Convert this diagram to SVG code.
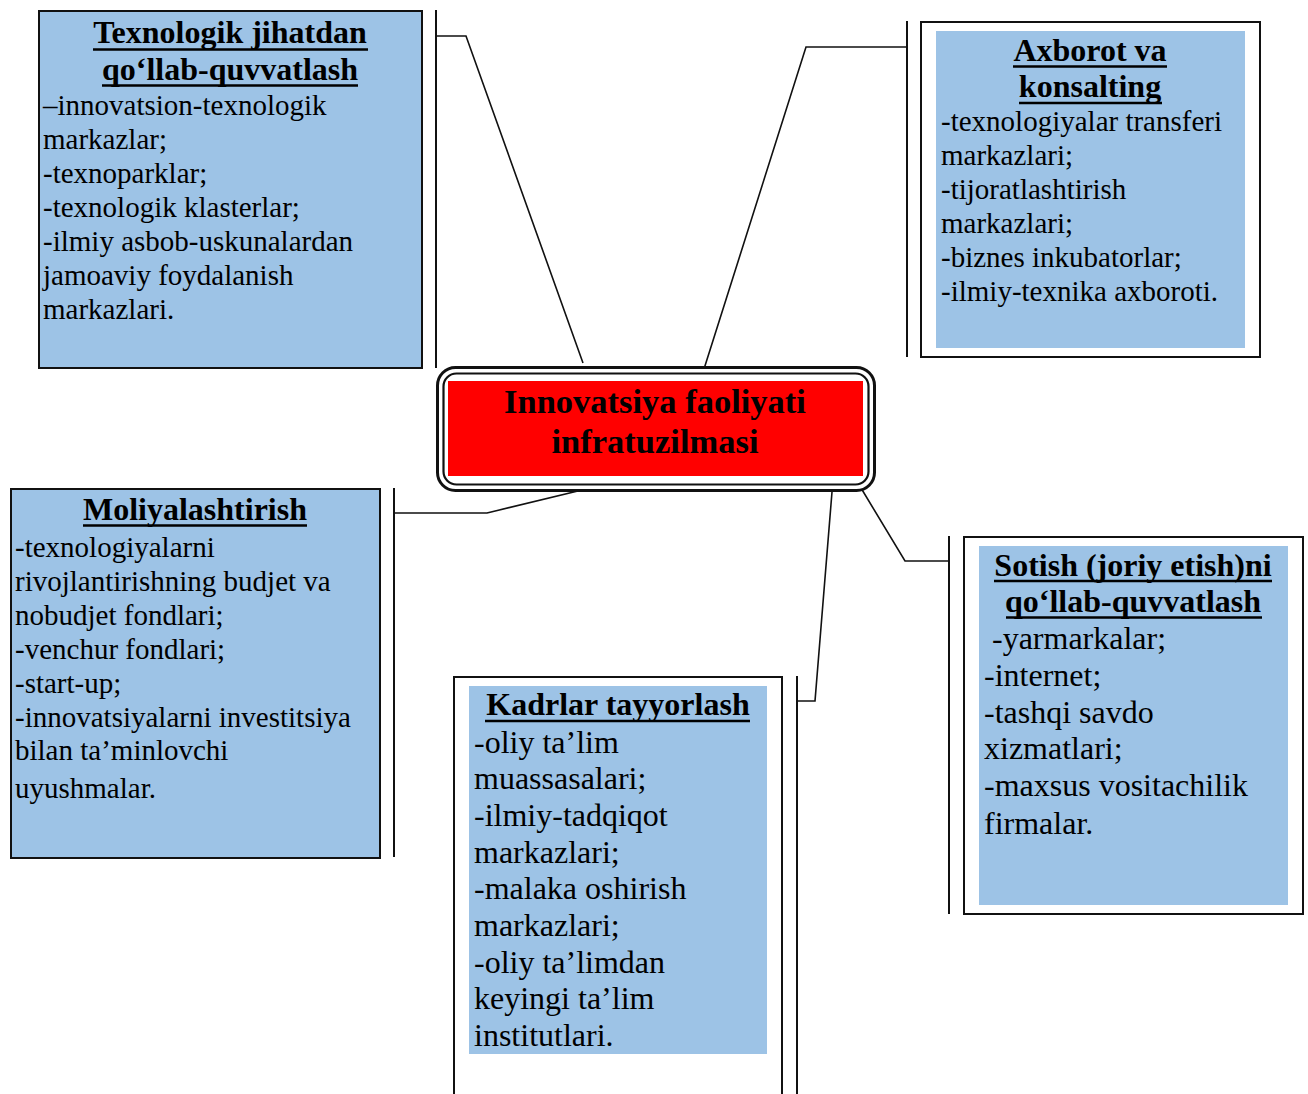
<svg xmlns="http://www.w3.org/2000/svg" width="1308" height="1094" viewBox="0 0 1308 1094">
<style>
  .frame{fill:#9dc3e6;stroke:#111;stroke-width:2}
  .outer{fill:#fff;stroke:#111;stroke-width:2}
  .blue{fill:#9dc3e6}
  .conn{fill:none;stroke:#111;stroke-width:1.6}
  .bar{stroke:#111;stroke-width:2}
  .ul{stroke:#000;stroke-width:2.6}
  text{font-family:"Liberation Serif","Times New Roman",serif;fill:#000}
  .t{font-size:32px;font-weight:bold;text-anchor:middle}
  .b{font-size:29px}
  .b2{font-size:32px}
  .c{font-size:34.5px;font-weight:bold;text-anchor:middle}
</style>
<rect width="1308" height="1094" fill="#fff"/>
<g id="connectors">
  <line class="bar" x1="436" y1="10" x2="436" y2="368"/>
  <polyline class="conn" points="436,36 466,36 583,363"/>
  <line class="bar" x1="907" y1="21" x2="907" y2="357"/>
  <polyline class="conn" points="907,47 806,47 704,369"/>
  <line class="bar" x1="394" y1="488" x2="394" y2="857"/>
  <polyline class="conn" points="394,513 487,513 582,490"/>
  <line class="bar" x1="797" y1="676" x2="797" y2="1094"/>
  <polyline class="conn" points="797,701 815,701 832,492"/>
  <line class="bar" x1="949" y1="536" x2="949" y2="914"/>
  <polyline class="conn" points="949,561 905,561 861,488"/>
</g>
<g id="center">
  <rect x="437.5" y="367.5" width="437" height="123" rx="18" fill="#fff" stroke="#111" stroke-width="3"/>
  <rect x="443.5" y="373.5" width="425" height="111" rx="13" fill="none" stroke="#111" stroke-width="2.2"/>
  <rect x="448" y="381" width="415" height="95" fill="#ff0000"/>
  <text class="c" x="655" y="413">Innovatsiya faoliyati</text>
  <text class="c" x="655" y="453">infratuzilmasi</text>
</g>
<g id="texnologik">
  <rect class="frame" x="39" y="11" width="383" height="357"/>
  <text class="t" x="230" y="43">Texnologik jihatdan</text>
  <line class="ul" x1="93" y1="49.5" x2="368" y2="49.5"/>
  <text class="t" x="230" y="80">qo‘llab-quvvatlash</text>
  <line class="ul" x1="102" y1="85.5" x2="358" y2="85.5"/>
  <text class="b" x="43" y="115">–innovatsion-texnologik</text>
  <text class="b" x="43" y="149">markazlar;</text>
  <text class="b" x="43" y="183">-texnoparklar;</text>
  <text class="b" x="43" y="217">-texnologik klasterlar;</text>
  <text class="b" x="43" y="251">-ilmiy asbob-uskunalardan</text>
  <text class="b" x="43" y="285">jamoaviy foydalanish</text>
  <text class="b" x="43" y="319">markazlari.</text>
</g>
<g id="axborot">
  <rect class="outer" x="921" y="22" width="339" height="335"/>
  <rect class="blue" x="936" y="31" width="309" height="317"/>
  <text class="t" x="1090" y="61">Axborot va</text>
  <line class="ul" x1="1013" y1="66.5" x2="1167" y2="66.5"/>
  <text class="t" x="1090" y="97">konsalting</text>
  <line class="ul" x1="1019" y1="103" x2="1162" y2="103"/>
  <text class="b" x="941" y="131">-texnologiyalar transferi</text>
  <text class="b" x="941" y="165">markazlari;</text>
  <text class="b" x="941" y="199">-tijoratlashtirish</text>
  <text class="b" x="941" y="233">markazlari;</text>
  <text class="b" x="941" y="267">-biznes inkubatorlar;</text>
  <text class="b" x="941" y="301">-ilmiy-texnika axboroti.</text>
</g>
<g id="moliya">
  <rect class="frame" x="11" y="489" width="369" height="369"/>
  <text class="t" x="195" y="520">Moliyalashtirish</text>
  <line class="ul" x1="83" y1="525.5" x2="307" y2="525.5"/>
  <text class="b" x="15" y="557">-texnologiyalarni</text>
  <text class="b" x="15" y="591">rivojlantirishning budjet va</text>
  <text class="b" x="15" y="625">nobudjet fondlari;</text>
  <text class="b" x="15" y="659">-venchur fondlari;</text>
  <text class="b" x="15" y="693">-start-up;</text>
  <text class="b" x="15" y="727">-innovatsiyalarni investitsiya</text>
  <text class="b" x="15" y="760">bilan ta’minlovchi</text>
  <text class="b" x="15" y="798">uyushmalar.</text>
</g>
<g id="kadrlar">
  <rect class="outer" x="454" y="677" width="328" height="430"/>
  <rect class="blue" x="469" y="686" width="298" height="368"/>
  <text class="t" x="618" y="715">Kadrlar tayyorlash</text>
  <line class="ul" x1="485" y1="721" x2="750" y2="721"/>
  <text class="b2" x="474" y="753">-oliy ta’lim</text>
  <text class="b2" x="474" y="789">muassasalari;</text>
  <text class="b2" x="474" y="826">-ilmiy-tadqiqot</text>
  <text class="b2" x="474" y="863">markazlari;</text>
  <text class="b2" x="474" y="899">-malaka oshirish</text>
  <text class="b2" x="474" y="936">markazlari;</text>
  <text class="b2" x="474" y="973">-oliy ta’limdan</text>
  <text class="b2" x="474" y="1009">keyingi ta’lim</text>
  <text class="b2" x="474" y="1046">institutlari.</text>
</g>
<g id="sotish">
  <rect class="outer" x="964" y="537" width="339" height="377"/>
  <rect class="blue" x="979" y="546" width="309" height="359"/>
  <text class="t" x="1133" y="576">Sotish (joriy etish)ni</text>
  <line class="ul" x1="994" y1="581" x2="1272" y2="581"/>
  <text class="t" x="1133" y="612">qo‘llab-quvvatlash</text>
  <line class="ul" x1="1006" y1="617.5" x2="1262" y2="617.5"/>
  <text class="b2" x="992" y="649">-yarmarkalar;</text>
  <text class="b2" x="984" y="686">-internet;</text>
  <text class="b2" x="984" y="723">-tashqi savdo</text>
  <text class="b2" x="984" y="759">xizmatlari;</text>
  <text class="b2" x="984" y="796">-maxsus vositachilik</text>
  <text class="b2" x="984" y="834">firmalar.</text>
</g>
</svg>
